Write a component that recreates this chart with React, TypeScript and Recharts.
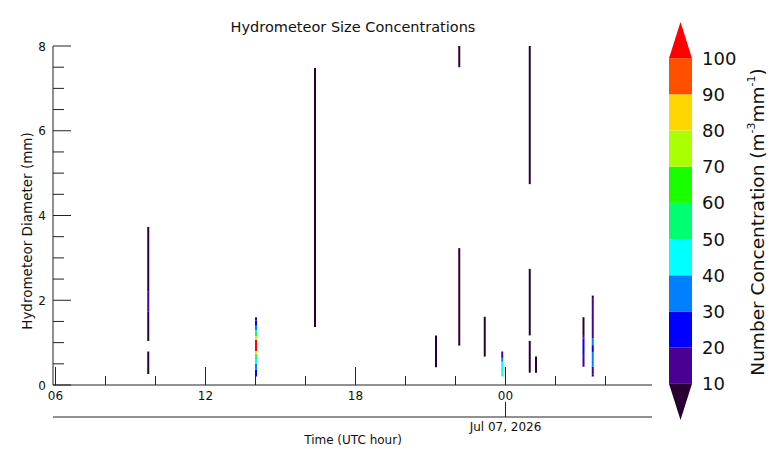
import React from 'react';
import { ComposedChart, XAxis, YAxis, ReferenceArea, Scatter } from 'recharts';

const FONT = '"DejaVu Sans", sans-serif';
const AXIS = '#222';

// ---- ticks & labels ----
const hourTicks = [6, 8, 10, 12, 14, 16, 18, 20, 22, 24, 26, 28];
const hourLabels: Record<number, string> = { 6: '06', 12: '12', 18: '18', 24: '00' };
const dateTicks = [24];
const dateLabels: Record<number, string> = { 24: 'Jul 07, 2026' };
const diameterTicks = [0, 0.5, 1, 1.5, 2, 2.5, 3, 3.5, 4, 4.5, 5, 5.5, 6, 6.5, 7, 7.5, 8];
const diameterLabels: Record<number, string> = { 0: '0', 2: '2', 4: '4', 6: '6', 8: '8' };

// ---- data: observation columns (hours since 00 UTC Jul 06) ----
const columnTimes = [9.71, 14.02, 16.38, 21.22, 22.15, 23.17, 23.87, 24.97, 25.22, 27.12, 27.49];
const columnWidth = 0.08;

// segments: column index, from (mm), to (mm), concentration value
const segColumn = [
  0, 0, 0, 0,
  1, 1, 1, 1, 1, 1, 1, 1, 1, 1, 1, 1, 1, 1, 1, 1,
  2,
  3,
  4, 4,
  5,
  6, 6, 6, 6,
  7, 7, 7,
  8,
  9, 9, 9, 9,
  10, 10, 10, 10, 10, 10, 10,
];
const segFrom = [
  0.26, 1.04, 1.73, 2.2,
  0.2, 0.36, 0.51, 0.6, 0.67, 0.72, 0.76, 0.8, 1.06, 1.1, 1.15, 1.2, 1.25, 1.3, 1.4, 1.52,
  1.37,
  0.42,
  0.93, 7.5,
  0.67,
  0.2, 0.3, 0.55, 0.64,
  0.29, 1.17, 4.74,
  0.29,
  0.43, 0.71, 1.1, 1.18,
  0.2, 0.24, 0.43, 0.78, 0.94, 1.1, 2.05,
];
const segTo = [
  0.79, 1.73, 2.2, 3.73,
  0.36, 0.51, 0.6, 0.67, 0.72, 0.76, 0.8, 1.06, 1.1, 1.15, 1.2, 1.25, 1.3, 1.4, 1.52, 1.6,
  7.48,
  1.17,
  3.23, 8.0,
  1.61,
  0.3, 0.55, 0.64, 0.79,
  1.04, 2.74, 8.0,
  0.67,
  0.71, 1.1, 1.18, 1.6,
  0.24, 0.43, 0.78, 0.94, 1.1, 2.05, 2.11,
];
const segValue = [
  5, 5, 15, 5,
  25, 35, 45, 55, 65, 75, 85, 105, 85, 75, 65, 55, 45, 35, 25, 15,
  5,
  5,
  5, 5,
  5,
  42, 45, 35, 15,
  5, 5, 5,
  5,
  15, 25, 15, 5,
  5, 15, 35, 25, 35, 15, 5,
];

// ---- colour scale ----
const levelBounds = [10, 20, 30, 40, 50, 60, 70, 80, 90, 100];
const levelColors = ['#4B0094', '#0000FF', '#0080FF', '#00FFFF', '#00FF70', '#19FF00', '#AAFF00', '#FFD700', '#FF5000'];
const underColor = '#2A0033';
const overColor = '#FF0000';

const colorFor = (v: number) => {
  if (v < levelBounds[0]) return underColor;
  if (v >= levelBounds[levelBounds.length - 1]) return overColor;
  for (let i = 0; i < levelColors.length; i++) {
    if (v >= levelBounds[i] && v < levelBounds[i + 1]) return levelColors[i];
  }
  return overColor;
};

const scatterData = columnTimes.map((t) => ({ t, d: 0 }));
const cbarDummy = [{ cx: 0.5, cy: 50 }];

const HourTick = (props: any) => {
  const { x, y, payload } = props;
  const label = hourLabels[payload.value];
  const major = label !== undefined;
  return (
    <g>
      <line x1={x} x2={x} y1={y} y2={y - (major ? 18 : 9)} stroke={AXIS} strokeWidth={1} />
      {major && (
        <text x={x} y={y + 14.5} textAnchor="middle" fontSize={12} fontFamily={FONT} fill="#111">
          {label}
        </text>
      )}
    </g>
  );
};

const DateTick = (props: any) => {
  const { x, y, payload } = props;
  return (
    <g>
      <line x1={x} x2={x} y1={y} y2={y - 15} stroke={AXIS} strokeWidth={1} />
      <text x={x} y={y + 14} textAnchor="middle" fontSize={12} fontFamily={FONT} fill="#111">
        {dateLabels[payload.value]}
      </text>
    </g>
  );
};

const DiamTick = (props: any) => {
  const { x, y, payload } = props;
  const label = diameterLabels[payload.value];
  const major = label !== undefined;
  return (
    <g>
      <line x1={x} x2={x + (major ? 18 : 11)} y1={y} y2={y} stroke={AXIS} strokeWidth={1} />
      {major && (
        <text x={x - 7} y={y + 4.5} textAnchor="end" fontSize={12} fontFamily={FONT} fill="#111">
          {label}
        </text>
      )}
    </g>
  );
};

const CbarTick = (props: any) => {
  const { x, y, payload } = props;
  return (
    <text x={x + 10} y={y + 6.5} textAnchor="start" fontSize={18} fontFamily={FONT} fill="#111">
      {payload.value}
    </text>
  );
};

const UpTriangle = (props: any) => {
  const { x, y, width, height } = props;
  return <polygon points={`${x},${y + height} ${x + width},${y + height} ${x + width / 2},${y}`} fill={overColor} />;
};
const DownTriangle = (props: any) => {
  const { x, y, width, height } = props;
  return <polygon points={`${x},${y} ${x + width},${y} ${x + width / 2},${y + height}`} fill={underColor} />;
};

export default function App() {
  return (
    <div style={{ position: 'fixed', left: 0, top: 0, width: 773, height: 467, background: '#fff' }}>
      <div style={{ position: 'absolute', left: 0, top: 0 }}>
        <ComposedChart width={773} height={467} margin={{ top: 46, right: 121, bottom: 0, left: 0 }}>
          <XAxis
            xAxisId="a"
            type="number"
            dataKey="t"
            domain={[5.9, 29.86]}
            allowDataOverflow
            ticks={hourTicks}
            interval={0}
            tick={<HourTick />}
            tickLine={false}
            tickSize={0}
            tickMargin={0}
            height={32}
            axisLine={{ stroke: AXIS, strokeWidth: 1 }}
          />
          <XAxis
            xAxisId="b"
            type="number"
            dataKey="t"
            domain={[5.9, 29.86]}
            allowDataOverflow
            ticks={dateTicks}
            interval={0}
            tick={<DateTick />}
            tickLine={false}
            tickSize={0}
            tickMargin={0}
            height={50}
            axisLine={{ stroke: AXIS, strokeWidth: 1 }}
          />
          <YAxis
            type="number"
            dataKey="d"
            domain={[0, 8]}
            allowDataOverflow
            ticks={diameterTicks}
            interval={0}
            tick={<DiamTick />}
            tickLine={false}
            tickSize={0}
            tickMargin={0}
            width={53}
            axisLine={{ stroke: AXIS, strokeWidth: 1 }}
          />
          <Scatter xAxisId="a" data={scatterData} dataKey="d" shape={() => <g />} isAnimationActive={false} />
          <Scatter xAxisId="b" data={scatterData} dataKey="d" shape={() => <g />} isAnimationActive={false} />
          {segColumn.map((c, i) => (
            <ReferenceArea
              key={i}
              xAxisId="a"
              x1={columnTimes[c] - columnWidth / 2}
              x2={columnTimes[c] + columnWidth / 2}
              y1={segFrom[i]}
              y2={segTo[i]}
              fill={colorFor(segValue[i])}
              fillOpacity={1}
              stroke="none"
              ifOverflow="visible"
            />
          ))}
        </ComposedChart>
      </div>

      <div style={{ position: 'absolute', left: 0, top: 0 }}>
        <ComposedChart width={773} height={467} margin={{ top: 22, right: 21, bottom: 47, left: 669 }}>
          <XAxis type="number" dataKey="cx" domain={[0, 1]} allowDataOverflow hide />
          <YAxis
            orientation="right"
            type="number"
            dataKey="cy"
            domain={[0, 110]}
            allowDataOverflow
            ticks={levelBounds}
            interval={0}
            tick={<CbarTick />}
            tickLine={false}
            axisLine={false}
            tickSize={0}
            tickMargin={0}
            width={60}
          />
          <Scatter data={cbarDummy} dataKey="cy" shape={() => <g />} isAnimationActive={false} />
          {levelColors.map((c, i) => (
            <ReferenceArea
              key={i}
              x1={0}
              x2={1}
              y1={levelBounds[i]}
              y2={levelBounds[i + 1]}
              fill={c}
              fillOpacity={1}
              stroke="none"
              ifOverflow="visible"
            />
          ))}
          <ReferenceArea x1={0} x2={1} y1={100} y2={110} shape={<UpTriangle />} ifOverflow="visible" />
          <ReferenceArea x1={0} x2={1} y1={0} y2={10} shape={<DownTriangle />} ifOverflow="visible" />
        </ComposedChart>
      </div>

      <svg width={773} height={467} style={{ position: 'absolute', left: 0, top: 0, pointerEvents: 'none' }}>
        <text x={353} y={32} textAnchor="middle" fontSize={14.5} fontFamily={FONT} fill="#111">
          Hydrometeor Size Concentrations
        </text>
        <text x={353} y={444} textAnchor="middle" fontSize={12} fontFamily={FONT} fill="#111">
          Time (UTC hour)
        </text>
        <text x={32} y={231} transform="rotate(-90 32 231)" textAnchor="middle" fontSize={13.5} fontFamily={FONT} fill="#111">
          Hydrometeor Diameter (mm)
        </text>
        <text x={764} y={222} transform="rotate(-90 764 222)" textAnchor="middle" fontSize={18.5} fontFamily={FONT} fill="#111">
          Number Concentration (m
          <tspan fontSize={11} dy={-9}>-3</tspan>
          <tspan dy={9}>mm</tspan>
          <tspan fontSize={11} dy={-9}>-1</tspan>
          <tspan dy={9}>)</tspan>
        </text>
      </svg>
    </div>
  );
}
